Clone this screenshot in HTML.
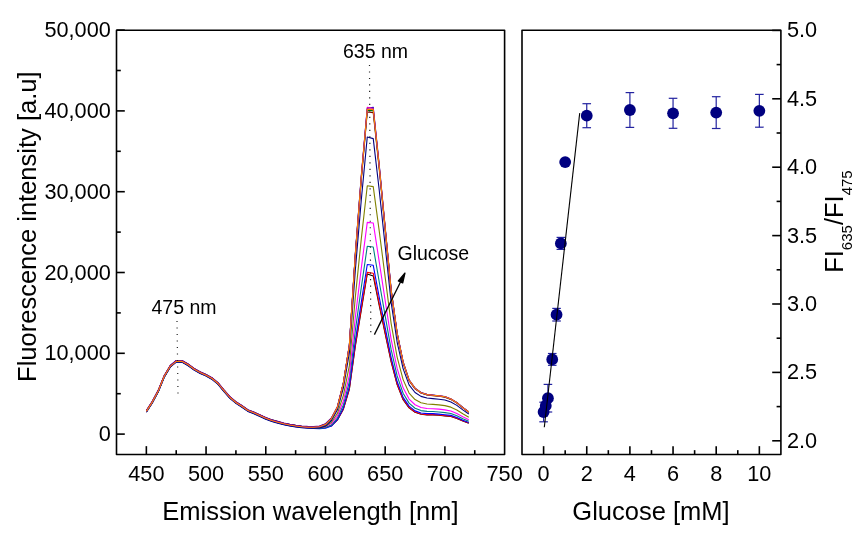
<!DOCTYPE html><html><head><meta charset="utf-8"><style>html,body{margin:0;padding:0;background:#fff;}svg{display:block;will-change:transform;}text{font-family:"Liberation Sans", sans-serif;fill:#000;}</style></head><body>
<svg width="867" height="537" viewBox="0 0 867 537">
<polyline fill="none" stroke="#000000" stroke-width="1.1" stroke-linejoin="round" points="146.35,410.80 152.32,401.50 158.30,390.30 164.27,375.70 170.24,365.70 176.21,360.70 182.18,360.80 188.15,364.20 194.12,368.60 200.09,371.90 206.06,374.60 212.03,377.90 218.00,382.90 223.97,390.10 229.94,396.90 235.92,401.90 241.89,405.70 247.86,409.90 253.83,412.20 259.80,414.90 265.77,417.70 271.74,419.90 277.71,421.60 283.68,423.20 289.65,424.40 295.62,425.40 301.59,426.20 307.56,426.60 313.54,427.21 319.51,427.62 325.48,427.24 331.45,425.65 337.42,419.87 343.39,409.18 349.36,389.26 355.33,346.16 361.30,310.09 367.27,274.00 373.24,276.00 379.21,305.47 385.18,333.94 391.16,361.91 397.13,384.65 403.10,399.68 409.07,407.85 415.04,412.30 421.01,414.27 426.98,414.86 432.95,414.85 438.92,415.25 444.89,415.84 450.86,416.42 456.83,418.50 462.80,420.97 468.78,423.24"/>
<polyline fill="none" stroke="#FF0000" stroke-width="1.1" stroke-linejoin="round" points="146.35,411.10 152.32,401.80 158.30,390.60 164.27,376.00 170.24,366.00 176.21,361.00 182.18,361.10 188.15,364.50 194.12,368.90 200.09,372.20 206.06,374.90 212.03,378.20 218.00,383.20 223.97,390.40 229.94,397.20 235.92,402.20 241.89,406.00 247.86,410.20 253.83,412.50 259.80,415.20 265.77,418.00 271.74,420.20 277.71,421.90 283.68,423.50 289.65,424.70 295.62,425.70 301.59,426.50 307.56,426.90 313.54,427.50 319.51,427.90 325.48,427.50 331.45,425.77 337.42,419.85 343.39,408.93 349.36,388.70 355.33,345.00 361.30,308.40 367.27,272.40 373.24,273.20 379.21,303.70 385.18,332.60 391.16,361.00 397.13,384.00 403.10,399.20 409.07,407.50 415.04,412.00 421.01,414.00 426.98,414.60 432.95,414.60 438.92,415.00 444.89,415.60 450.86,416.20 456.83,418.30 462.80,420.80 468.78,423.10"/>
<polyline fill="none" stroke="#0000FF" stroke-width="1.1" stroke-linejoin="round" points="146.35,412.00 152.32,402.70 158.30,391.50 164.27,376.90 170.24,366.90 176.21,361.90 182.18,362.00 188.15,365.40 194.12,369.80 200.09,373.10 206.06,375.80 212.03,379.10 218.00,384.10 223.97,391.30 229.94,398.10 235.92,403.10 241.89,406.90 247.86,411.10 253.83,413.40 259.80,416.10 265.77,418.90 271.74,421.10 277.71,422.80 283.68,424.40 289.65,425.60 295.62,426.60 301.59,427.40 307.56,427.80 313.54,428.38 319.51,428.73 325.48,428.24 331.45,426.09 337.42,419.68 343.39,407.90 349.36,386.60 355.33,340.63 361.30,302.06 367.27,264.53 373.24,265.29 379.21,297.07 385.18,327.56 391.16,357.59 397.13,381.55 403.10,397.41 409.07,406.18 415.04,410.86 421.01,412.97 426.98,413.64 432.95,413.67 438.92,414.08 444.89,414.69 450.86,415.37 456.83,417.55 462.80,420.16 468.78,422.57"/>
<polyline fill="none" stroke="#008080" stroke-width="1.1" stroke-linejoin="round" points="146.35,411.70 152.32,402.40 158.30,391.20 164.27,376.60 170.24,366.60 176.21,361.60 182.18,361.70 188.15,365.10 194.12,369.50 200.09,372.80 206.06,375.50 212.03,378.80 218.00,383.80 223.97,391.00 229.94,397.80 235.92,402.80 241.89,406.60 247.86,410.80 253.83,413.10 259.80,415.80 265.77,418.60 271.74,420.80 277.71,422.50 283.68,424.10 289.65,425.30 295.62,426.30 301.59,427.10 307.56,427.50 313.54,428.02 319.51,428.28 325.48,427.58 331.45,425.03 337.42,418.08 343.39,404.94 349.36,381.75 355.33,330.53 361.30,287.41 367.27,246.32 373.24,247.00 379.21,281.73 385.18,315.92 391.16,349.71 397.13,375.89 403.10,393.29 409.07,403.13 415.04,408.23 421.01,410.60 426.98,411.40 432.95,411.52 438.92,411.95 444.89,412.59 450.86,413.47 456.83,415.80 462.80,418.69 468.78,421.34"/>
<polyline fill="none" stroke="#FF00FF" stroke-width="1.1" stroke-linejoin="round" points="146.35,411.20 152.32,401.90 158.30,390.70 164.27,376.10 170.24,366.10 176.21,361.10 182.18,361.20 188.15,364.60 194.12,369.00 200.09,372.30 206.06,375.00 212.03,378.30 218.00,383.30 223.97,390.50 229.94,397.30 235.92,402.30 241.89,406.10 247.86,410.30 253.83,412.60 259.80,415.30 265.77,418.10 271.74,420.30 277.71,422.00 283.68,423.60 289.65,424.80 295.62,425.80 301.59,426.60 307.56,427.00 313.54,427.45 319.51,427.57 325.48,426.59 331.45,423.56 337.42,415.94 343.39,401.02 349.36,375.37 355.33,317.25 361.30,268.14 367.27,222.38 373.24,222.94 379.21,261.55 385.18,300.61 391.16,339.35 397.13,368.44 403.10,387.85 409.07,399.11 415.04,404.77 421.01,407.47 426.98,408.47 432.95,408.68 438.92,409.14 444.89,409.84 450.86,410.95 456.83,413.51 462.80,416.74 468.78,419.71"/>
<polyline fill="none" stroke="#808000" stroke-width="1.1" stroke-linejoin="round" points="146.35,411.70 152.32,402.40 158.30,391.20 164.27,376.60 170.24,366.60 176.21,361.60 182.18,361.70 188.15,365.10 194.12,369.50 200.09,372.80 206.06,375.50 212.03,378.80 218.00,383.80 223.97,391.00 229.94,397.80 235.92,402.80 241.89,406.60 247.86,410.80 253.83,413.10 259.80,415.80 265.77,418.60 271.74,420.80 277.71,422.50 283.68,424.10 289.65,425.30 295.62,426.30 301.59,427.10 307.56,427.50 313.54,427.84 319.51,427.76 325.48,426.36 331.45,422.27 337.42,413.30 343.39,395.37 349.36,365.67 355.33,297.04 361.30,238.84 367.27,185.80 373.24,186.60 379.21,230.87 385.18,277.32 391.16,323.58 397.13,357.12 403.10,379.60 409.07,393.01 415.04,399.51 421.01,402.72 426.98,404.01 432.95,404.38 438.92,404.88 444.89,405.64 450.86,407.14 456.83,410.03 462.80,413.79 468.78,417.25"/>
<polyline fill="none" stroke="#000080" stroke-width="1.1" stroke-linejoin="round" points="146.35,412.30 152.32,403.00 158.30,391.80 164.27,377.20 170.24,367.20 176.21,362.20 182.18,362.30 188.15,365.70 194.12,370.10 200.09,373.40 206.06,376.10 212.03,379.40 218.00,384.40 223.97,391.60 229.94,398.40 235.92,403.40 241.89,407.20 247.86,411.40 253.83,413.70 259.80,416.40 265.77,419.20 271.74,421.40 277.71,423.10 283.68,424.70 289.65,425.90 295.62,426.90 301.59,427.70 307.56,428.10 313.54,428.29 319.51,427.95 325.48,425.98 331.45,420.50 337.42,409.75 343.39,387.83 349.36,352.73 355.33,270.11 361.30,199.76 367.27,137.00 373.24,138.60 379.21,189.96 385.18,246.27 391.16,302.57 397.13,342.03 403.10,368.58 409.07,384.87 415.04,392.49 421.01,396.39 426.98,398.06 432.95,398.63 438.92,399.20 444.89,400.05 450.86,402.04 456.83,405.38 462.80,409.85 468.78,413.96"/>
<polyline fill="none" stroke="#800000" stroke-width="1.1" stroke-linejoin="round" points="146.35,410.90 152.32,401.60 158.30,390.40 164.27,375.80 170.24,365.80 176.21,360.80 182.18,360.90 188.15,364.30 194.12,368.70 200.09,372.00 206.06,374.70 212.03,378.00 218.00,383.00 223.97,390.20 229.94,397.00 235.92,402.00 241.89,405.80 247.86,410.00 253.83,412.30 259.80,415.00 265.77,417.80 271.74,420.00 277.71,421.70 283.68,423.30 289.65,424.50 295.62,425.50 301.59,426.30 307.56,426.70 313.54,426.81 319.51,426.33 325.48,424.08 331.45,418.30 337.42,407.05 343.39,383.47 349.36,346.01 355.33,256.09 361.30,179.44 367.27,112.00 373.24,112.60 379.21,168.68 385.18,230.11 391.16,291.63 397.13,334.17 403.10,362.86 409.07,380.63 415.04,388.85 421.01,393.09 426.98,394.96 432.95,395.65 438.92,396.24 444.89,397.13 450.86,399.40 456.83,402.96 462.80,407.81 468.78,412.26"/>
<polyline fill="none" stroke="#008000" stroke-width="1.1" stroke-linejoin="round" points="146.35,411.60 152.32,402.30 158.30,391.10 164.27,376.50 170.24,366.50 176.21,361.50 182.18,361.60 188.15,365.00 194.12,369.40 200.09,372.70 206.06,375.40 212.03,378.70 218.00,383.70 223.97,390.90 229.94,397.70 235.92,402.70 241.89,406.50 247.86,410.70 253.83,413.00 259.80,415.70 265.77,418.50 271.74,420.70 277.71,422.40 283.68,424.00 289.65,425.20 295.62,426.20 301.59,427.00 307.56,427.40 313.54,427.51 319.51,427.02 325.48,424.74 331.45,418.75 337.42,407.27 343.39,383.39 349.36,345.57 355.33,255.18 361.30,178.12 367.27,110.60 373.24,110.60 379.21,167.30 385.18,229.06 391.16,290.92 397.13,333.66 403.10,362.48 409.07,380.36 415.04,388.61 421.01,392.88 426.98,394.76 432.95,395.45 438.92,396.05 444.89,396.95 450.86,399.22 456.83,402.80 462.80,407.67 468.78,412.14"/>
<polyline fill="none" stroke="#0000C0" stroke-width="1.1" stroke-linejoin="round" points="146.35,411.90 152.32,402.60 158.30,391.40 164.27,376.80 170.24,366.80 176.21,361.80 182.18,361.90 188.15,365.30 194.12,369.70 200.09,373.00 206.06,375.70 212.03,379.00 218.00,384.00 223.97,391.20 229.94,398.00 235.92,403.00 241.89,406.80 247.86,411.00 253.83,413.30 259.80,416.00 265.77,418.80 271.74,421.00 277.71,422.70 283.68,424.30 289.65,425.50 295.62,426.50 301.59,427.30 307.56,427.70 313.54,427.80 319.51,427.29 325.48,424.98 331.45,418.83 337.42,407.17 343.39,382.97 349.36,344.74 355.33,253.45 361.30,175.61 367.27,108.20 373.24,107.20 379.21,164.67 385.18,227.07 391.16,289.57 397.13,332.69 403.10,361.78 409.07,379.83 415.04,388.16 421.01,392.47 426.98,394.38 432.95,395.08 438.92,395.68 444.89,396.59 450.86,398.90 456.83,402.51 462.80,407.42 468.78,411.93"/>
<polyline fill="none" stroke="#E000C0" stroke-width="1.1" stroke-linejoin="round" points="146.35,411.10 152.32,401.80 158.30,390.60 164.27,376.00 170.24,366.00 176.21,361.00 182.18,361.10 188.15,364.50 194.12,368.90 200.09,372.20 206.06,374.90 212.03,378.20 218.00,383.20 223.97,390.40 229.94,397.20 235.92,402.20 241.89,406.00 247.86,410.20 253.83,412.50 259.80,415.20 265.77,418.00 271.74,420.20 277.71,421.90 283.68,423.50 289.65,424.70 295.62,425.70 301.59,426.50 307.56,426.90 313.54,427.00 319.51,426.51 325.48,424.22 331.45,418.31 337.42,406.92 343.39,383.06 349.36,345.22 355.33,254.45 361.30,177.06 367.27,107.20 373.24,108.40 379.21,166.19 385.18,228.22 391.16,290.36 397.13,333.25 403.10,362.19 409.07,380.14 415.04,388.42 421.01,392.71 426.98,394.60 432.95,395.30 438.92,395.90 444.89,396.79 450.86,399.09 456.83,402.68 462.80,407.57 468.78,412.06"/>
<polyline fill="none" stroke="#6000A0" stroke-width="1.1" stroke-linejoin="round" points="146.35,410.60 152.32,401.30 158.30,390.10 164.27,375.50 170.24,365.50 176.21,360.50 182.18,360.60 188.15,364.00 194.12,368.40 200.09,371.70 206.06,374.40 212.03,377.70 218.00,382.70 223.97,389.90 229.94,396.70 235.92,401.70 241.89,405.50 247.86,409.70 253.83,412.00 259.80,414.70 265.77,417.50 271.74,419.70 277.71,421.40 283.68,423.00 289.65,424.20 295.62,425.20 301.59,426.00 307.56,426.40 313.54,426.50 319.51,426.01 325.48,423.72 331.45,417.94 337.42,406.67 343.39,382.93 349.36,345.22 355.33,254.45 361.30,177.06 367.27,109.22 373.24,109.22 379.21,166.19 385.18,228.22 391.16,290.36 397.13,333.25 403.10,362.19 409.07,380.14 415.04,388.42 421.01,392.71 426.98,394.60 432.95,395.30 438.92,395.90 444.89,396.79 450.86,399.09 456.83,402.68 462.80,407.57 468.78,412.06"/>
<polyline fill="none" stroke="#FF8000" stroke-width="1.1" stroke-linejoin="round" points="146.35,411.40 152.32,402.10 158.30,390.90 164.27,376.30 170.24,366.30 176.21,361.30 182.18,361.40 188.15,364.80 194.12,369.20 200.09,372.50 206.06,375.20 212.03,378.50 218.00,383.50 223.97,390.70 229.94,397.50 235.92,402.50 241.89,406.30 247.86,410.50 253.83,412.80 259.80,415.50 265.77,418.30 271.74,420.50 277.71,422.20 283.68,423.80 289.65,425.00 295.62,426.00 301.59,426.80 307.56,427.20 313.54,427.30 319.51,426.81 325.48,424.52 331.45,418.54 337.42,407.06 343.39,383.13 349.36,345.22 355.33,254.45 361.30,177.06 367.27,109.40 373.24,109.40 379.21,166.19 385.18,228.22 391.16,290.36 397.13,333.25 403.10,362.19 409.07,380.14 415.04,388.42 421.01,392.71 426.98,394.60 432.95,395.30 438.92,395.90 444.89,396.79 450.86,399.09 456.83,402.68 462.80,407.57 468.78,412.06"/>
<line x1="369.5" y1="64.9" x2="370.8" y2="332.2" stroke="#222" stroke-width="1.2" stroke-dasharray="1.2 5.29"/>
<line x1="177.0" y1="320.9" x2="178.0" y2="393.7" stroke="#222" stroke-width="1.2" stroke-dasharray="1.2 5.3"/>
<text x="343" y="57.5" font-size="19.5">635 nm</text>
<text x="151.5" y="313.6" font-size="19.5">475 nm</text>
<text x="397.5" y="259.9" font-size="19.5">Glucose</text>
<line x1="374.4" y1="334.6" x2="400.5" y2="282" stroke="#000" stroke-width="1.3"/>
<polygon points="405.0,273.0 398.3,281.0 402.7,283.0" fill="#000" stroke="#000" stroke-width="1.2" stroke-linejoin="round"/>
<rect x="116.50" y="30.30" width="388.10" height="424.15" fill="none" stroke="#000" stroke-linejoin="round" stroke-width="1.60"/>
<line x1="116.50" y1="434.10" x2="124.80" y2="434.10" stroke="#000" stroke-width="1.60"/>
<text transform="translate(110.8,441.10) scale(1,1.05)" font-size="21.7" text-anchor="end">0</text>
<line x1="116.50" y1="393.70" x2="120.80" y2="393.70" stroke="#000" stroke-width="1.60"/>
<line x1="116.50" y1="353.30" x2="124.80" y2="353.30" stroke="#000" stroke-width="1.60"/>
<text transform="translate(110.8,360.30) scale(1,1.05)" font-size="21.7" text-anchor="end">10,000</text>
<line x1="116.50" y1="312.90" x2="120.80" y2="312.90" stroke="#000" stroke-width="1.60"/>
<line x1="116.50" y1="272.50" x2="124.80" y2="272.50" stroke="#000" stroke-width="1.60"/>
<text transform="translate(110.8,279.50) scale(1,1.05)" font-size="21.7" text-anchor="end">20,000</text>
<line x1="116.50" y1="232.10" x2="120.80" y2="232.10" stroke="#000" stroke-width="1.60"/>
<line x1="116.50" y1="191.70" x2="124.80" y2="191.70" stroke="#000" stroke-width="1.60"/>
<text transform="translate(110.8,198.70) scale(1,1.05)" font-size="21.7" text-anchor="end">30,000</text>
<line x1="116.50" y1="151.30" x2="120.80" y2="151.30" stroke="#000" stroke-width="1.60"/>
<line x1="116.50" y1="110.90" x2="124.80" y2="110.90" stroke="#000" stroke-width="1.60"/>
<text transform="translate(110.8,117.90) scale(1,1.05)" font-size="21.7" text-anchor="end">40,000</text>
<line x1="116.50" y1="70.50" x2="120.80" y2="70.50" stroke="#000" stroke-width="1.60"/>
<line x1="116.50" y1="30.10" x2="124.80" y2="30.10" stroke="#000" stroke-width="1.60"/>
<text transform="translate(110.8,37.10) scale(1,1.05)" font-size="21.7" text-anchor="end">50,000</text>
<line x1="146.35" y1="454.45" x2="146.35" y2="446.15" stroke="#000" stroke-width="1.60"/>
<text transform="translate(146.35,481.2) scale(1,1.05)" font-size="21.7" text-anchor="middle">450</text>
<line x1="176.21" y1="454.45" x2="176.21" y2="450.15" stroke="#000" stroke-width="1.60"/>
<line x1="206.06" y1="454.45" x2="206.06" y2="446.15" stroke="#000" stroke-width="1.60"/>
<text transform="translate(206.06,481.2) scale(1,1.05)" font-size="21.7" text-anchor="middle">500</text>
<line x1="235.92" y1="454.45" x2="235.92" y2="450.15" stroke="#000" stroke-width="1.60"/>
<line x1="265.77" y1="454.45" x2="265.77" y2="446.15" stroke="#000" stroke-width="1.60"/>
<text transform="translate(265.77,481.2) scale(1,1.05)" font-size="21.7" text-anchor="middle">550</text>
<line x1="295.62" y1="454.45" x2="295.62" y2="450.15" stroke="#000" stroke-width="1.60"/>
<line x1="325.48" y1="454.45" x2="325.48" y2="446.15" stroke="#000" stroke-width="1.60"/>
<text transform="translate(325.48,481.2) scale(1,1.05)" font-size="21.7" text-anchor="middle">600</text>
<line x1="355.33" y1="454.45" x2="355.33" y2="450.15" stroke="#000" stroke-width="1.60"/>
<line x1="385.18" y1="454.45" x2="385.18" y2="446.15" stroke="#000" stroke-width="1.60"/>
<text transform="translate(385.18,481.2) scale(1,1.05)" font-size="21.7" text-anchor="middle">650</text>
<line x1="415.04" y1="454.45" x2="415.04" y2="450.15" stroke="#000" stroke-width="1.60"/>
<line x1="444.89" y1="454.45" x2="444.89" y2="446.15" stroke="#000" stroke-width="1.60"/>
<text transform="translate(444.89,481.2) scale(1,1.05)" font-size="21.7" text-anchor="middle">700</text>
<line x1="474.75" y1="454.45" x2="474.75" y2="450.15" stroke="#000" stroke-width="1.60"/>
<text transform="translate(504.60,481.2) scale(1,1.05)" font-size="21.7" text-anchor="middle">750</text>
<text x="162.3" y="520.2" font-size="25.5">Emission wavelength [nm]</text>
<text transform="translate(36.4,381.9) rotate(-90)" font-size="25.5">Fluorescence intensity [a.u]</text>
<rect x="522.00" y="30.30" width="258.90" height="424.15" fill="none" stroke="#000" stroke-linejoin="round" stroke-width="1.60"/>
<line x1="543.60" y1="454.45" x2="543.60" y2="446.15" stroke="#000" stroke-width="1.60"/>
<text transform="translate(543.60,481.2) scale(1,1.05)" font-size="21.7" text-anchor="middle">0</text>
<line x1="565.18" y1="454.45" x2="565.18" y2="450.15" stroke="#000" stroke-width="1.60"/>
<line x1="586.75" y1="454.45" x2="586.75" y2="446.15" stroke="#000" stroke-width="1.60"/>
<text transform="translate(586.75,481.2) scale(1,1.05)" font-size="21.7" text-anchor="middle">2</text>
<line x1="608.33" y1="454.45" x2="608.33" y2="450.15" stroke="#000" stroke-width="1.60"/>
<line x1="629.90" y1="454.45" x2="629.90" y2="446.15" stroke="#000" stroke-width="1.60"/>
<text transform="translate(629.90,481.2) scale(1,1.05)" font-size="21.7" text-anchor="middle">4</text>
<line x1="651.48" y1="454.45" x2="651.48" y2="450.15" stroke="#000" stroke-width="1.60"/>
<line x1="673.05" y1="454.45" x2="673.05" y2="446.15" stroke="#000" stroke-width="1.60"/>
<text transform="translate(673.05,481.2) scale(1,1.05)" font-size="21.7" text-anchor="middle">6</text>
<line x1="694.62" y1="454.45" x2="694.62" y2="450.15" stroke="#000" stroke-width="1.60"/>
<line x1="716.20" y1="454.45" x2="716.20" y2="446.15" stroke="#000" stroke-width="1.60"/>
<text transform="translate(716.20,481.2) scale(1,1.05)" font-size="21.7" text-anchor="middle">8</text>
<line x1="737.77" y1="454.45" x2="737.77" y2="450.15" stroke="#000" stroke-width="1.60"/>
<line x1="759.35" y1="454.45" x2="759.35" y2="446.15" stroke="#000" stroke-width="1.60"/>
<text transform="translate(759.35,481.2) scale(1,1.05)" font-size="21.7" text-anchor="middle">10</text>
<line x1="780.90" y1="440.80" x2="772.20" y2="440.80" stroke="#000" stroke-width="1.60"/>
<text transform="translate(787.0,447.80) scale(1,1.05)" font-size="21.7">2.0</text>
<line x1="780.90" y1="406.60" x2="776.60" y2="406.60" stroke="#000" stroke-width="1.60"/>
<line x1="780.90" y1="372.40" x2="772.20" y2="372.40" stroke="#000" stroke-width="1.60"/>
<text transform="translate(787.0,379.40) scale(1,1.05)" font-size="21.7">2.5</text>
<line x1="780.90" y1="338.20" x2="776.60" y2="338.20" stroke="#000" stroke-width="1.60"/>
<line x1="780.90" y1="304.00" x2="772.20" y2="304.00" stroke="#000" stroke-width="1.60"/>
<text transform="translate(787.0,311.00) scale(1,1.05)" font-size="21.7">3.0</text>
<line x1="780.90" y1="269.80" x2="776.60" y2="269.80" stroke="#000" stroke-width="1.60"/>
<line x1="780.90" y1="235.60" x2="772.20" y2="235.60" stroke="#000" stroke-width="1.60"/>
<text transform="translate(787.0,242.60) scale(1,1.05)" font-size="21.7">3.5</text>
<line x1="780.90" y1="201.40" x2="776.60" y2="201.40" stroke="#000" stroke-width="1.60"/>
<line x1="780.90" y1="167.20" x2="772.20" y2="167.20" stroke="#000" stroke-width="1.60"/>
<text transform="translate(787.0,174.20) scale(1,1.05)" font-size="21.7">4.0</text>
<line x1="780.90" y1="133.00" x2="776.60" y2="133.00" stroke="#000" stroke-width="1.60"/>
<line x1="780.90" y1="98.80" x2="772.20" y2="98.80" stroke="#000" stroke-width="1.60"/>
<text transform="translate(787.0,105.80) scale(1,1.05)" font-size="21.7">4.5</text>
<line x1="780.90" y1="64.60" x2="776.60" y2="64.60" stroke="#000" stroke-width="1.60"/>
<line x1="780.90" y1="30.40" x2="772.20" y2="30.40" stroke="#000" stroke-width="1.60"/>
<text transform="translate(787.0,37.40) scale(1,1.05)" font-size="21.7">5.0</text>
<text x="572.3" y="519.8" font-size="25.5">Glucose [mM]</text>
<text transform="translate(842.7,272.8) rotate(-90)" font-size="25.5">FI<tspan font-size="15" dy="9">635</tspan><tspan dy="-9">/FI</tspan><tspan font-size="15" dy="9">475</tspan></text>
<g stroke="#2323A0" stroke-width="1.2"><line x1="543.60" y1="402.20" x2="543.60" y2="421.80"/><line x1="539.30" y1="402.20" x2="547.90" y2="402.20"/><line x1="539.30" y1="421.80" x2="547.90" y2="421.80"/></g>
<g stroke="#2323A0" stroke-width="1.2"><line x1="547.92" y1="384.40" x2="547.92" y2="412.00"/><line x1="543.62" y1="384.40" x2="552.22" y2="384.40"/><line x1="543.62" y1="412.00" x2="552.22" y2="412.00"/></g>
<g stroke="#2323A0" stroke-width="1.2"><line x1="552.23" y1="353.50" x2="552.23" y2="365.30"/><line x1="547.93" y1="353.50" x2="556.53" y2="353.50"/><line x1="547.93" y1="365.30" x2="556.53" y2="365.30"/></g>
<g stroke="#2323A0" stroke-width="1.2"><line x1="556.55" y1="308.40" x2="556.55" y2="321.00"/><line x1="552.25" y1="308.40" x2="560.85" y2="308.40"/><line x1="552.25" y1="321.00" x2="560.85" y2="321.00"/></g>
<g stroke="#2323A0" stroke-width="1.2"><line x1="560.86" y1="237.40" x2="560.86" y2="249.40"/><line x1="556.56" y1="237.40" x2="565.16" y2="237.40"/><line x1="556.56" y1="249.40" x2="565.16" y2="249.40"/></g>
<g stroke="#2323A0" stroke-width="1.2"><line x1="586.75" y1="103.70" x2="586.75" y2="127.70"/><line x1="582.45" y1="103.70" x2="591.05" y2="103.70"/><line x1="582.45" y1="127.70" x2="591.05" y2="127.70"/></g>
<g stroke="#2323A0" stroke-width="1.2"><line x1="629.90" y1="92.60" x2="629.90" y2="127.40"/><line x1="625.60" y1="92.60" x2="634.20" y2="92.60"/><line x1="625.60" y1="127.40" x2="634.20" y2="127.40"/></g>
<g stroke="#2323A0" stroke-width="1.2"><line x1="673.05" y1="98.30" x2="673.05" y2="128.30"/><line x1="668.75" y1="98.30" x2="677.35" y2="98.30"/><line x1="668.75" y1="128.30" x2="677.35" y2="128.30"/></g>
<g stroke="#2323A0" stroke-width="1.2"><line x1="716.20" y1="96.70" x2="716.20" y2="128.50"/><line x1="711.90" y1="96.70" x2="720.50" y2="96.70"/><line x1="711.90" y1="128.50" x2="720.50" y2="128.50"/></g>
<g stroke="#2323A0" stroke-width="1.2"><line x1="759.35" y1="94.40" x2="759.35" y2="127.20"/><line x1="755.05" y1="94.40" x2="763.65" y2="94.40"/><line x1="755.05" y1="127.20" x2="763.65" y2="127.20"/></g>
<circle cx="543.60" cy="412.00" r="5.9" fill="#000080"/>
<circle cx="545.76" cy="405.70" r="5.9" fill="#000080"/>
<circle cx="547.92" cy="398.20" r="5.9" fill="#000080"/>
<circle cx="552.23" cy="359.40" r="5.9" fill="#000080"/>
<circle cx="556.55" cy="314.70" r="5.9" fill="#000080"/>
<circle cx="560.86" cy="243.40" r="5.9" fill="#000080"/>
<circle cx="565.18" cy="162.10" r="5.9" fill="#000080"/>
<circle cx="586.75" cy="115.70" r="5.9" fill="#000080"/>
<circle cx="629.90" cy="110.00" r="5.9" fill="#000080"/>
<circle cx="673.05" cy="113.30" r="5.9" fill="#000080"/>
<circle cx="716.20" cy="112.60" r="5.9" fill="#000080"/>
<circle cx="759.35" cy="110.80" r="5.9" fill="#000080"/>
<line x1="544.3" y1="427.2" x2="579.7" y2="113.1" stroke="#000" stroke-width="1.1"/>
</svg></body></html>
